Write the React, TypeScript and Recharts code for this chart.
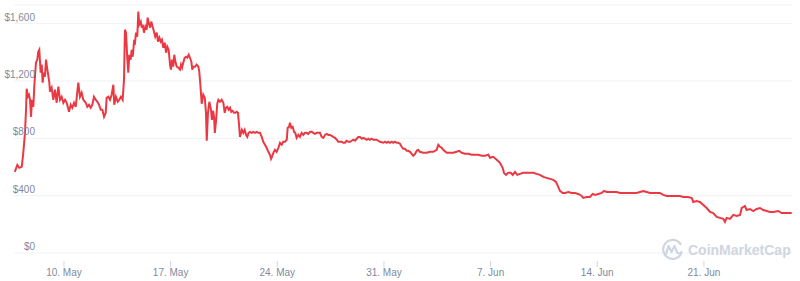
import React from 'react';
import { LineChart, Line, XAxis, YAxis, CartesianGrid } from 'recharts';

// x values: day number counted from 30 April (1 = 1 May, 32 = 1 Jun)
const days = [
  6.77, 6.94, 7.07, 7.23, 7.33, 7.44, 7.51, 7.55, 7.62, 7.70, 7.77, 7.84, 7.90, 7.99, 8.05, 8.16, 8.25, 8.31, 8.38, 8.47,
  8.54, 8.60, 8.67, 8.75, 8.82, 8.91, 9.04, 9.08, 9.19, 9.30, 9.41, 9.52, 9.63, 9.74, 9.85, 9.96, 10.07, 10.18, 10.33, 10.44,
  10.55, 10.66, 10.77, 10.87, 10.94, 11.05, 11.16, 11.27, 11.43, 11.53, 11.64, 11.75, 11.86, 11.97, 12.08, 12.19, 12.30, 12.41, 12.52, 12.63,
  12.74, 12.80, 12.91, 13.02, 13.13, 13.24, 13.30, 13.41, 13.53, 13.63, 13.74, 13.85, 13.94, 14.00, 14.07, 14.16, 14.22, 14.29, 14.38, 14.44,
  14.51, 14.60, 14.66, 14.73, 14.81, 14.88, 14.94, 15.04, 15.10, 15.17, 15.25, 15.34, 15.43, 15.49, 15.56, 15.65, 15.73, 15.82, 15.91, 15.99,
  16.09, 16.17, 16.26, 16.35, 16.43, 16.52, 16.61, 16.70, 16.78, 16.87, 16.96, 17.02, 17.09, 17.17, 17.24, 17.31, 17.40, 17.50, 17.61, 17.68,
  17.75, 17.83, 17.92, 18.01, 18.09, 18.19, 18.27, 18.36, 18.42, 18.49, 18.60, 18.71, 18.82, 18.88, 18.95, 19.04, 19.14, 19.24, 19.32, 19.37,
  19.45, 19.54, 19.65, 19.71, 19.78, 19.85, 19.90, 19.98, 20.06, 20.13, 20.24, 20.35, 20.46, 20.55, 20.63, 20.72, 20.81, 20.90, 20.98, 21.07,
  21.16, 21.24, 21.34, 21.42, 21.49, 21.55, 21.62, 21.68, 21.77, 21.86, 21.95, 22.03, 22.12, 22.21, 22.32, 22.42, 22.54, 22.65, 22.75, 22.86,
  22.98, 23.08, 23.19, 23.30, 23.41, 23.52, 23.59, 23.65, 23.74, 23.85, 23.96, 24.07, 24.18, 24.29, 24.39, 24.51, 24.62, 24.68, 24.77, 24.83,
  24.92, 25.01, 25.10, 25.18, 25.27, 25.38, 25.49, 25.60, 25.71, 25.82, 25.93, 26.03, 26.15, 26.26, 26.36, 26.47, 26.59, 26.69, 26.80, 26.91,
  27.02, 27.13, 27.24, 27.35, 27.46, 27.57, 27.67, 27.79, 27.90, 28.00, 28.11, 28.23, 28.33, 28.44, 28.55, 28.66, 28.77, 28.88, 28.99, 29.10,
  29.21, 29.32, 29.43, 29.54, 29.64, 29.76, 29.87, 29.97, 30.08, 30.19, 30.30, 30.52, 30.74, 30.96, 31.07, 31.18, 31.28, 31.40, 31.51, 31.61,
  31.72, 31.84, 31.94, 32.05, 32.16, 32.27, 32.38, 32.49, 32.60, 32.71, 32.82, 32.92, 33.04, 33.15, 33.25, 33.36, 33.58, 33.80, 34.02, 34.24,
  34.46, 34.57, 34.68, 34.79, 34.89, 35.12, 35.33, 35.55, 35.77, 35.94, 36.10, 36.32, 36.53, 36.76, 36.97, 37.19, 37.41, 37.63, 37.85, 37.96,
  38.17, 38.40, 38.61, 38.79, 38.88, 39.01, 39.16, 39.32, 39.45, 39.60, 39.75, 39.93, 40.14, 40.37, 40.58, 40.80, 41.02, 41.24, 41.46, 41.68,
  41.90, 42.11, 42.29, 42.44, 42.55, 42.73, 42.88, 43.10, 43.32, 43.54, 43.75, 43.98, 44.08, 44.30, 44.52, 44.70, 44.85, 45.07, 45.29, 45.44,
  45.62, 45.83, 46.05, 46.27, 46.49, 46.71, 46.93, 47.15, 47.36, 47.59, 47.80, 48.02, 48.24, 48.46, 48.68, 48.90, 49.11, 49.33, 49.55, 49.77,
  50.10, 50.43, 50.64, 50.97, 51.20, 51.30, 51.52, 51.74, 51.96, 52.18, 52.40, 52.61, 52.84, 53.05, 53.27, 53.38, 53.49, 53.71, 53.93, 54.15,
  54.37, 54.48, 54.58, 54.69, 54.80, 55.02, 55.24, 55.46, 55.68, 55.89, 56.12, 56.33, 56.55, 56.88, 57.10, 57.32, 57.54, 57.76,
];

// price in USD
const prices = [
  566, 615, 594, 601, 699, 838, 999, 1146, 1090, 1104, 1069, 950, 1069, 1020, 1160, 1328, 1349, 1404, 1418, 1258,
  1314, 1188, 1258, 1230, 1349, 1279, 1188, 1125, 1153, 1069, 1139, 1048, 1160, 1069, 1090, 1048, 1069, 1048, 985, 1034,
  1013, 1048, 1020, 1118, 1188, 1090, 1118, 1069, 1048, 1020, 1034, 1013, 1034, 1090, 1069, 1055, 1034, 999, 999, 950,
  978, 1083, 1090, 1069, 1104, 1174, 1034, 1090, 1055, 1069, 1090, 1069, 1209, 1558, 1537, 1349, 1258, 1383, 1349, 1418,
  1369, 1474, 1467, 1537, 1509, 1684, 1593, 1614, 1572, 1593, 1537, 1579, 1558, 1642, 1607, 1572, 1614, 1579, 1544, 1509,
  1537, 1474, 1502, 1474, 1488, 1432, 1467, 1397, 1439, 1418, 1314, 1279, 1349, 1300, 1383, 1335, 1300, 1293, 1279, 1314,
  1293, 1328, 1362, 1369, 1362, 1383, 1362, 1335, 1279, 1300, 1300, 1314, 1300, 1265, 1174, 1041, 1104, 1083, 978, 783,
  978, 1055, 999, 929, 992, 950, 838, 922, 1041, 1069, 1055, 1069, 1048, 978, 1013, 1020, 999, 1013, 985, 992,
  978, 978, 985, 978, 894, 810, 838, 859, 838, 859, 824, 810, 838, 845, 838, 845, 838, 845, 838, 838,
  810, 776, 755, 734, 706, 685, 657, 671, 699, 720, 706, 734, 769, 755, 776, 776, 790, 873, 880, 908,
  873, 880, 845, 838, 803, 824, 810, 838, 824, 838, 838, 831, 845, 845, 838, 831, 838, 838, 838, 810,
  803, 824, 831, 824, 824, 817, 810, 803, 790, 776, 776, 776, 769, 769, 783, 776, 776, 783, 790, 783,
  797, 810, 810, 797, 803, 797, 790, 797, 790, 797, 790, 790, 776, 769, 776, 769, 776, 769, 776, 769,
  776, 769, 769, 762, 741, 727, 727, 713, 713, 706, 692, 678, 692, 713, 720, 706, 699, 699, 706, 706,
  720, 755, 741, 734, 720, 699, 699, 699, 706, 713, 699, 692, 692, 685, 685, 685, 678, 678, 685, 664,
  671, 650, 629, 594, 559, 545, 559, 559, 545, 566, 545, 552, 559, 559, 559, 559, 552, 545, 531, 524,
  517, 510, 496, 461, 433, 419, 419, 426, 419, 419, 412, 398, 384, 391, 391, 412, 405, 412, 419, 433,
  426, 426, 426, 426, 419, 419, 419, 419, 419, 419, 426, 433, 426, 419, 419, 419, 419, 405, 398, 398,
  398, 398, 391, 391, 384, 356, 363, 356, 335, 314, 286, 279, 252, 245, 238, 217, 245, 238, 266, 259,
  266, 314, 321, 328, 300, 307, 293, 307, 314, 300, 293, 286, 286, 293, 279, 279, 279, 279,
];

const xTicks = [10, 17, 24, 31, 38, 45, 52];
const xTickLabels = ['10. May', '17. May', '24. May', '31. May', '7. Jun', '14. Jun', '21. Jun'];
const yTicks = [0, 400, 800, 1200, 1600];
const yTickLabels = ['$0', '$400', '$800', '$1,200', '$1,600'];

const data = days.map((d, i) => ({ day: d, price: prices[i] }));

const FONT = '"Liberation Sans", Arial, Helvetica, sans-serif';
const LABEL_COLOR = '#808a9d';

const XTick = (props: any) => {
  const { x, y, payload } = props;
  const i = xTicks.indexOf(payload.value);
  return (
    <g>
      <line x1={x} x2={x} y1={y + 8} y2={y + 14} stroke="#ccd6eb" strokeWidth={1} />
      <text x={x} y={y + 23} textAnchor="middle" fill={LABEL_COLOR} fontSize={10} fontFamily={FONT}>
        {xTickLabels[i]}
      </text>
    </g>
  );
};

const YTick = (props: any) => {
  const { x, y, payload } = props;
  const i = yTicks.indexOf(payload.value);
  return (
    <text x={x + 21} y={y - 3} textAnchor="end" fill={LABEL_COLOR} fontSize={10} fontFamily={FONT}>
      {yTickLabels[i]}
    </text>
  );
};

const Watermark = () => (
  <svg width={140} height={30} style={{ position: 'absolute', left: 655, top: 235 }}>
    <g fill="none" stroke="#cfd6e2" strokeWidth={2.2} strokeLinecap="round" strokeLinejoin="round">
      <path d="M 26 19 A 9.5 9.5 0 1 1 25.5 9" />
      <path d="M 11 19 L 13.5 11 L 16.5 17 L 19.5 11 L 22 17 Q 24 20 26.5 17" />
    </g>
    <text x={33} y={20} fill="#cfd6e2" fontSize={14} fontWeight={600} fontFamily={FONT}>
      CoinMarketCap
    </text>
  </svg>
);

export default function App() {
  return (
    <div style={{ position: 'relative', width: 800, height: 281 }}>
      <style>{`body { margin: 0; }`}</style>
      <LineChart width={800} height={281} data={data} margin={{ top: 5, right: 8, left: 0, bottom: 0 }}>
        <CartesianGrid vertical={false} stroke="#eff2f5" strokeWidth={1} />
        <XAxis
          dataKey="day"
          type="number"
          domain={[6.72, 57.78]}
          ticks={xTicks}
          interval={0}
          height={28}
          axisLine={false}
          tickLine={false}
          tickSize={0}
          tickMargin={0}
          tick={<XTick />}
          allowDataOverflow
        />
        <YAxis
          type="number"
          domain={[0, 1730]}
          ticks={yTicks}
          interval={0}
          width={14}
          axisLine={false}
          tickLine={false}
          tickSize={0}
          tickMargin={0}
          tick={<YTick />}
          allowDataOverflow
        />
        <Line
          type="linear"
          dataKey="price"
          stroke="#ea3943"
          strokeWidth={2}
          dot={false}
          activeDot={false}
          isAnimationActive={false}
        />
      </LineChart>
      <Watermark />
    </div>
  );
}
